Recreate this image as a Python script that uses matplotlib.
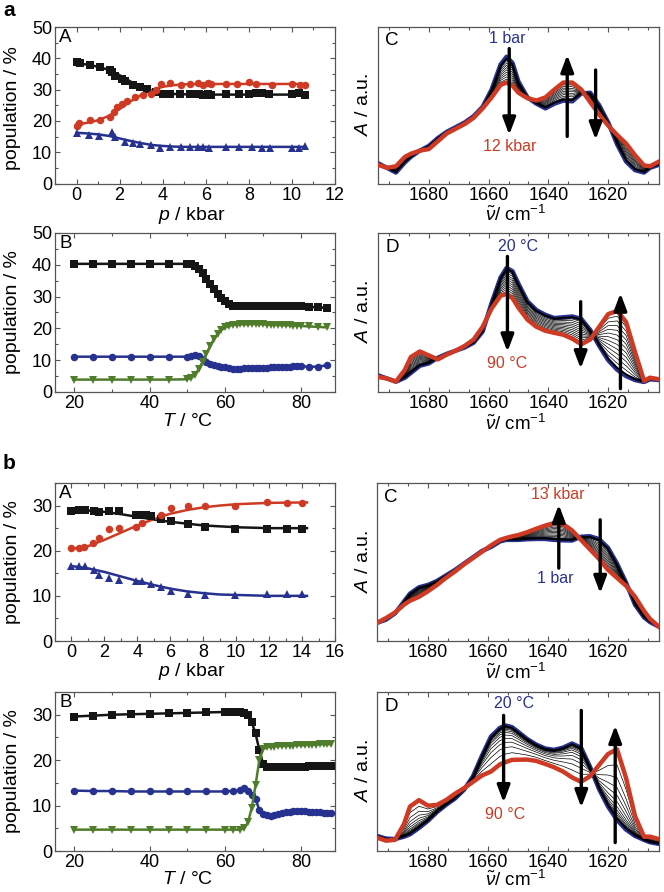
import matplotlib
matplotlib.use('Agg')
import matplotlib.pyplot as plt
from matplotlib.ticker import MultipleLocator
from matplotlib.patches import ArrowStyle
import numpy as np

plt.rcParams['font.family'] = ['Liberation Sans', 'DejaVu Sans']
plt.rcParams['mathtext.fontset'] = 'custom'
plt.rcParams['mathtext.rm'] = 'Liberation Sans'
plt.rcParams['mathtext.it'] = 'Liberation Sans:italic'
plt.rcParams['mathtext.bf'] = 'Liberation Sans:bold'

BLACK = '#151515'
RED = '#cf3a24'
BLUE = '#27318f'
GREEN = '#4f7d2c'
SPINE = '#555555'

# ---------------- panel a-A (pressure) ----------------
aA_p_black = [0, 0.15, 0.61, 1.10, 1.56, 1.64, 1.79, 2.10, 2.25, 2.64, 2.94, 3.25, 3.71, 4.02, 4.33, 4.79,
              5.25, 5.55, 5.70, 5.86, 6.09, 6.24, 6.93, 7.55, 8.01, 8.31, 8.62, 8.93, 10.0, 10.31, 10.61]
aA_black = [38.9, 38.4, 38.0, 37.1, 36.3, 35.5, 34.5, 33.3, 32.6, 31.4, 30.9, 30.3, 29.3, 28.7, 28.5, 28.5,
            28.5, 28.5, 28.5, 28.4, 28.5, 28.3, 28.5, 28.5, 28.7, 28.8, 29.0, 28.6, 28.7, 28.8, 28.4]
aA_p_red = [0, 0.11, 0.61, 1.10, 1.56, 1.72, 1.87, 2.10, 2.33, 2.71, 3.10, 3.48, 3.71, 3.94, 4.33, 4.86,
            5.25, 5.63, 5.86, 6.09, 6.24, 6.93, 7.47, 8.01, 8.31, 9.08, 10.0, 10.38, 10.61]
aA_red = [18.3, 19.4, 20.2, 20.4, 21.3, 23.0, 24.3, 25.3, 26.4, 27.7, 28.2, 28.7, 29.8, 31.9, 32.1, 31.4,
          31.7, 32.1, 31.4, 32.1, 31.9, 31.9, 31.9, 32.4, 31.9, 31.4, 31.7, 31.4, 31.4]
aA_p_blue = [0, 0.57, 1.03, 1.64, 1.79, 2.25, 2.64, 2.94, 3.48, 3.87, 4.33, 4.86, 5.25, 5.63, 5.86, 6.17,
             6.93, 7.55, 8.16, 8.62, 9.0, 10.0, 10.31, 10.61]
aA_blue = [16.0, 15.4, 15.1, 16.5, 14.9, 13.3, 12.8, 12.6, 12.4, 11.5, 11.7, 11.7, 11.7, 11.7, 11.7, 11.2,
           11.7, 11.7, 11.7, 11.5, 11.5, 11.5, 11.5, 11.9]
aA_pfit = [0, 0.5, 1.0, 1.5, 2.0, 2.5, 3.0, 3.5, 4.0, 4.5, 5.0, 6.0, 8.0, 10.6]
aA_black_fit = [38.4, 38.0, 37.3, 36.3, 34.6, 32.6, 30.8, 29.6, 28.9, 28.6, 28.5, 28.4, 28.4, 28.4]
aA_red_fit = [18.8, 19.4, 20.2, 21.6, 23.8, 26.2, 28.3, 29.9, 30.9, 31.4, 31.7, 31.8, 31.8, 31.8]
aA_blue_fit = [16.2, 16.0, 15.7, 15.2, 14.4, 13.6, 12.9, 12.3, 12.0, 11.8, 11.7, 11.7, 11.7, 11.7]

# ---------------- panel a-B (temperature) ----------------
aB_T = [20, 25, 30, 35, 40, 45, 50, 51, 52, 53, 54, 55, 56, 57, 58, 59, 60, 61, 62, 63, 64, 65, 66, 67, 68,
        69, 70, 71, 72, 73, 74, 75, 76, 77, 78, 79, 80, 82, 84.5, 87]
aB_black = [40.3, 40.3, 40.3, 40.3, 40.3, 40.3, 40.3, 40.1, 39.7, 38.7, 37.3, 35.6, 34.0, 32.3, 30.8, 29.5,
            28.5, 27.7, 27.2, 27.0, 26.9, 26.9, 26.9, 26.9, 26.9, 26.9, 26.9, 26.9, 26.9, 26.9, 26.9, 26.9,
            26.9, 26.9, 26.9, 26.9, 26.9, 26.8, 26.6, 26.5]
aB_blue = [11.1, 11.1, 11.1, 11.1, 11.1, 11.1, 11.1, 11.3, 11.5, 11.2, 10.4, 9.5, 8.8, 8.4, 8.2, 8.0, 7.9,
           7.5, 7.3, 7.2, 7.3, 7.4, 7.5, 7.5, 7.6, 7.6, 7.7, 7.7, 7.8, 7.8, 7.9, 7.9, 8.0, 8.0, 8.1, 8.1,
           8.2, 7.9, 8.0, 8.4]
aB_green = [3.9, 3.9, 3.9, 3.9, 3.9, 3.9, 4.0, 4.4, 5.5, 7.2, 9.5, 12.0, 14.5, 16.6, 18.3, 19.5, 20.3,
            20.8, 21.1, 21.2, 21.3, 21.3, 21.3, 21.4, 21.4, 21.3, 21.3, 21.2, 21.2, 21.1, 21.1, 21.0, 21.0,
            21.0, 20.9, 20.9, 20.8, 20.6, 20.5, 20.3]

# ---------------- panel b-A (pressure) ----------------
bA_p_black = [0, 0.45, 0.85, 1.35, 1.7, 2.3, 2.9, 3.9, 4.2, 4.5, 4.8, 5.45, 6.05, 7.05, 8.1, 9.9, 11.85, 13.1, 14.0]
bA_black = [28.9, 29.0, 29.1, 28.9, 28.5, 28.9, 28.7, 28.0, 28.0, 28.0, 27.6, 27.0, 26.5, 26.0, 25.3, 24.8,
            24.8, 24.7, 24.8]
bA_p_red = [0, 0.45, 0.75, 1.3, 1.7, 2.3, 2.9, 3.9, 4.3, 5.45, 6.05, 7.05, 8.1, 9.9, 11.85, 13.1, 14.0]
bA_red = [20.6, 20.6, 20.8, 21.7, 22.8, 24.8, 25.1, 25.3, 26.2, 28.0, 29.4, 30.0, 30.0, 29.8, 30.8, 30.5, 30.5]
bA_p_blue = [0, 0.45, 0.8, 1.35, 1.7, 2.3, 2.9, 3.9, 4.3, 4.8, 5.45, 6.05, 7.05, 8.1, 9.9, 11.85, 13.1, 14.0]
bA_blue = [16.7, 16.7, 16.7, 15.8, 14.7, 13.9, 13.6, 13.2, 13.2, 12.6, 11.9, 11.0, 10.4, 10.1, 10.2, 10.4,
           10.4, 10.4]
bA_pfit = [0, 1, 2, 3, 4, 5, 6, 7, 8, 9, 10, 12, 14.3]
bA_black_fit = [29.0, 28.9, 28.6, 28.1, 27.5, 26.9, 26.4, 26.0, 25.6, 25.4, 25.2, 25.0, 25.0]
bA_red_fit = [20.4, 21.0, 22.4, 24.0, 25.6, 27.0, 28.2, 29.0, 29.6, 30.0, 30.3, 30.6, 30.7]
bA_blue_fit = [16.6, 16.1, 15.3, 14.3, 13.3, 12.4, 11.6, 11.0, 10.6, 10.3, 10.2, 10.0, 10.0]

# ---------------- panel b-B (temperature) ----------------
bB_T = [20, 25, 30, 35, 40, 45, 50, 55, 60, 62, 64, 65, 66, 67, 68, 69, 70, 71, 72, 73, 74, 75, 76, 77, 78,
        79, 80, 81, 82, 83, 84, 85, 86, 87, 88]
bB_black = [29.6, 29.8, 30.0, 30.1, 30.2, 30.3, 30.4, 30.5, 30.6, 30.6, 30.5, 30.3, 30.0, 28.3, 25.9, 22.2,
            19.2, 18.6, 18.4, 18.5, 18.5, 18.5, 18.5, 18.6, 18.6, 18.6, 18.6, 18.6, 18.7, 18.7, 18.7, 18.7,
            18.7, 18.7, 18.7]
bB_blue = [13.3, 13.2, 13.2, 13.1, 13.1, 13.1, 13.1, 13.1, 13.1, 13.2, 13.4, 13.8, 13.2, 12.3, 11.5, 9.0,
           8.2, 8.0, 7.6, 7.9, 8.2, 8.4, 8.5, 8.6, 8.7, 8.7, 8.7, 8.8, 8.6, 8.6, 8.5, 8.5, 8.4, 8.4, 8.4]
bB_green = [4.7, 4.7, 4.7, 4.7, 4.7, 4.7, 4.7, 4.7, 4.7, 4.7, 4.7, 5.0, 6.3, 9.5, 14.5, 20.0, 22.5, 22.8,
            23.0, 23.0, 23.1, 23.1, 23.2, 23.2, 23.2, 23.3, 23.3, 23.3, 23.4, 23.4, 23.4, 23.5, 23.5, 23.5, 23.5]

# ---------------- spectra (common wavenumber grid) ----------------
wn = [1697, 1694, 1691, 1688, 1686, 1683, 1680, 1677, 1674, 1671, 1668, 1665, 1662, 1659, 1656, 1654, 1652,
      1650, 1647, 1644, 1641, 1638, 1635, 1632, 1629, 1626, 1623, 1620, 1617, 1614, 1611, 1608, 1606, 1603]

aC_blue = [0.13, 0.10, 0.07, 0.135, 0.17, 0.21, 0.24, 0.29, 0.33, 0.36, 0.39, 0.43, 0.49, 0.60, 0.76, 0.81,
           0.77, 0.65, 0.55, 0.51, 0.48, 0.51, 0.53, 0.525, 0.575, 0.58, 0.50, 0.39, 0.25, 0.14, 0.085, 0.07,
           0.10, 0.12]
aC_red = [0.12, 0.10, 0.11, 0.17, 0.19, 0.21, 0.22, 0.27, 0.32, 0.35, 0.38, 0.42, 0.48, 0.55, 0.63, 0.645,
          0.625, 0.58, 0.545, 0.53, 0.55, 0.60, 0.645, 0.645, 0.60, 0.52, 0.44, 0.37, 0.31, 0.255, 0.18,
          0.115, 0.11, 0.14]
aD_blue = [0.105, 0.085, 0.065, 0.09, 0.12, 0.165, 0.18, 0.215, 0.24, 0.26, 0.28, 0.31, 0.38, 0.56, 0.72,
           0.78, 0.76, 0.68, 0.57, 0.515, 0.485, 0.465, 0.47, 0.475, 0.46, 0.39, 0.29, 0.20, 0.14, 0.10,
           0.075, 0.063, 0.08, 0.075]
aD_red = [0.095, 0.085, 0.065, 0.14, 0.22, 0.255, 0.23, 0.205, 0.235, 0.26, 0.29, 0.33, 0.41, 0.525, 0.605,
          0.617, 0.59, 0.53, 0.455, 0.41, 0.385, 0.372, 0.36, 0.335, 0.30, 0.33, 0.41, 0.49, 0.51, 0.44,
          0.25, 0.07, 0.09, 0.08]
bC_blue = [0.115, 0.135, 0.175, 0.25, 0.30, 0.34, 0.355, 0.38, 0.415, 0.45, 0.49, 0.53, 0.57, 0.595, 0.63,
           0.64, 0.64, 0.64, 0.644, 0.646, 0.646, 0.64, 0.637, 0.636, 0.66, 0.663, 0.645, 0.59, 0.49, 0.37,
           0.23, 0.15, 0.12, 0.09]
bC_red = [0.115, 0.145, 0.18, 0.23, 0.255, 0.28, 0.315, 0.355, 0.40, 0.44, 0.485, 0.525, 0.565, 0.605, 0.64,
          0.652, 0.662, 0.67, 0.688, 0.71, 0.73, 0.746, 0.74, 0.70, 0.64, 0.58, 0.52, 0.45, 0.40, 0.35,
          0.28, 0.19, 0.14, 0.09]
bD_blue = [0.095, 0.078, 0.075, 0.09, 0.105, 0.145, 0.19, 0.245, 0.29, 0.33, 0.385, 0.47, 0.60, 0.72, 0.775,
           0.789, 0.779, 0.75, 0.705, 0.67, 0.645, 0.636, 0.65, 0.676, 0.65, 0.53, 0.39, 0.28, 0.195, 0.135,
           0.095, 0.07, 0.055, 0.045]
bD_red = [0.084, 0.065, 0.07, 0.17, 0.28, 0.32, 0.285, 0.29, 0.32, 0.36, 0.395, 0.435, 0.475, 0.50, 0.545,
          0.56, 0.573, 0.574, 0.575, 0.567, 0.548, 0.527, 0.50, 0.463, 0.435, 0.47, 0.54, 0.61, 0.64, 0.46,
          0.22, 0.09, 0.09, 0.075]

# fractions of the way from first (blue) to last (red) spectrum for the intermediate traces
aC_steps = [0.06, 0.15, 0.24, 0.33, 0.42, 0.51, 0.60, 0.69, 0.78, 0.87, 0.94]
aD_steps = [0.03, 0.11, 0.19, 0.27, 0.35, 0.43, 0.51, 0.59, 0.67, 0.75, 0.83, 0.91]
bC_steps = [0.04, 0.12, 0.20, 0.28, 0.36, 0.44, 0.52, 0.60, 0.68, 0.76, 0.84, 0.92]
bD_steps = [0.02, 0.04, 0.07, 0.10, 0.14, 0.19, 0.26, 0.35, 0.46, 0.60, 0.78]

W, H = 664, 892
fig = plt.figure(figsize=(W / 100, H / 100), dpi=100)

TICK_FS = 13
LAB_FS = 14


def box(x0, y0, x1, y1):
    return [x0 / W, 1 - y1 / H, (x1 - x0) / W, (y1 - y0) / H]


def style(ax, spec=False):
    for s in ax.spines.values():
        s.set_color(SPINE)
        s.set_linewidth(0.9)
    ax.tick_params(which='both', direction='in', top=True, bottom=True,
                   left=not spec, right=not spec, color=SPINE, labelsize=TICK_FS,
                   labelleft=not spec)
    ax.tick_params(axis='y', pad=2)
    ax.tick_params(axis='x', pad=2.5)
    ax.tick_params(which='major', length=3.5, width=0.8)
    ax.tick_params(which='minor', length=2.2, width=0.8)


def pop_panel(rect, letter, xlim, xmaj, xmin, ylim):
    ax = fig.add_axes(box(*rect))
    style(ax)
    ax.set_xlim(*xlim)
    ax.set_ylim(*ylim)
    ax.xaxis.set_major_locator(MultipleLocator(xmaj))
    ax.xaxis.set_minor_locator(MultipleLocator(xmin))
    ax.yaxis.set_major_locator(MultipleLocator(10))
    ax.yaxis.set_minor_locator(MultipleLocator(5))
    ax.text(0.015, 0.985, letter, transform=ax.transAxes, ha='left', va='top', fontsize=13.5)
    return ax


def spec_panel(rect, letter):
    ax = fig.add_axes(box(*rect))
    style(ax, spec=True)
    ax.set_xlim(1697, 1603)
    ax.set_ylim(0, 1)
    ax.xaxis.set_major_locator(MultipleLocator(20))
    ax.xaxis.set_minor_locator(MultipleLocator(20 / 3))
    ax.set_yticks([])
    ax.text(0.025, 0.965, letter, transform=ax.transAxes, ha='left', va='top', fontsize=13.5)
    return ax


def family(ax, blue, red, steps):
    b = np.array(blue)
    r = np.array(red)
    ax.plot(wn, blue, color=BLUE, lw=3.2, zorder=2, solid_joinstyle='round')
    for i, f in enumerate(steps):
        ax.plot(wn, b + f * (r - b), color='k', lw=1.3 if i == 0 else 0.5, zorder=3)
    ax.plot(wn, red, color=RED, lw=3.2, zorder=4, solid_joinstyle='round')


def arrow(ax, x, y0, y1):
    ax.annotate('', xy=(x, y1), xytext=(x, y0), zorder=6,
                arrowprops=dict(arrowstyle=ArrowStyle('-|>', head_length=0.85, head_width=0.32),
                                lw=2.4, color='k', shrinkA=0, shrinkB=0, mutation_scale=12))


MS = dict(markersize=5.4, markeredgewidth=0)

# ---- a-A
ax = pop_panel((55, 27, 335, 183.5), 'A', (-1, 12), 2, 1, (0, 50))
ax.plot(aA_pfit, aA_black_fit, color=BLACK, lw=1.8, zorder=2)
ax.plot(aA_pfit, aA_red_fit, color=RED, lw=1.8, zorder=2)
ax.plot(aA_pfit, aA_blue_fit, color=BLUE, lw=1.8, zorder=2)
ax.plot(aA_p_black, aA_black, 's', color=BLACK, zorder=3, **MS)
ax.plot(aA_p_red, aA_red, 'o', color=RED, zorder=3, **MS)
ax.plot(aA_p_blue, aA_blue, '^', color=BLUE, zorder=3, **MS)

# ---- a-B
ax = pop_panel((55, 233, 335, 392), 'B', (15, 89), 20, 10, (0, 50))
ax.plot(aB_T, aB_black, 's-', color=BLACK, lw=1.8, zorder=3, **MS)
ax.plot(aB_T, aB_blue, 'o-', color=BLUE, lw=1.8, zorder=3, **MS)
ax.plot(aB_T, aB_green, 'v-', color=GREEN, lw=1.8, zorder=3, **MS)

# ---- b-A
ax = pop_panel((55, 483, 335, 641), 'A', (-1, 16), 2, 1, (0, 35))
ax.plot(bA_pfit, bA_black_fit, color=BLACK, lw=1.8, zorder=2)
ax.plot(bA_pfit, bA_red_fit, color=RED, lw=1.8, zorder=2)
ax.plot(bA_pfit, bA_blue_fit, color=BLUE, lw=1.8, zorder=2)
ax.plot(bA_p_black, bA_black, 's', color=BLACK, zorder=3, **MS)
ax.plot(bA_p_red, bA_red, 'o', color=RED, zorder=3, **MS)
ax.plot(bA_p_blue, bA_blue, '^', color=BLUE, zorder=3, **MS)

# ---- b-B
ax = pop_panel((55, 692, 335, 851), 'B', (15, 89), 20, 10, (0, 35))
ax.plot(bB_T, bB_black, 's-', color=BLACK, lw=1.8, zorder=3, **MS)
ax.plot(bB_T, bB_blue, 'o-', color=BLUE, lw=1.8, zorder=3, **MS)
ax.plot(bB_T, bB_green, 'v-', color=GREEN, lw=1.8, zorder=3, **MS)

# ---- a-C
ax = spec_panel((378, 27, 659, 183.5), 'C')
family(ax, aC_blue, aC_red, aC_steps)
arrow(ax, 1653.1, 0.862, 0.311)
arrow(ax, 1633.7, 0.301, 0.822)
arrow(ax, 1624.2, 0.725, 0.28)
ax.text(1653.7, 0.925, '1 bar', color=BLUE, ha='center', va='center', fontsize=11.5)
ax.text(1653.1, 0.237, '12 kbar', color=RED, ha='center', va='center', fontsize=11.5)

# ---- a-D
ax = spec_panel((378, 233, 659, 392), 'D')
family(ax, aD_blue, aD_red, aD_steps)
arrow(ax, 1653.7, 0.853, 0.253)
arrow(ax, 1629.2, 0.568, 0.147)
arrow(ax, 1615.9, 0.021, 0.621)
ax.text(1650.3, 0.916, '20 °C', color=BLUE, ha='center', va='center', fontsize=11.5)
ax.text(1653.7, 0.179, '90 °C', color=RED, ha='center', va='center', fontsize=11.5)

# ---- b-C
ax = spec_panel((377, 483, 659, 641), 'C')
family(ax, bC_blue, bC_red, bC_steps)
arrow(ax, 1636.4, 0.461, 0.863)
arrow(ax, 1622.6, 0.767, 0.302)
ax.text(1636.7, 0.926, '13 kbar', color=RED, ha='center', va='center', fontsize=11.5)
ax.text(1637.6, 0.397, '1 bar', color=BLUE, ha='center', va='center', fontsize=11.5)

# ---- b-D
ax = spec_panel((377, 692, 659, 851), 'D')
family(ax, bD_blue, bD_red, bD_steps)
arrow(ax, 1654.8, 0.853, 0.305)
arrow(ax, 1628.9, 0.884, 0.274)
arrow(ax, 1617.6, 0.053, 0.789)
ax.text(1651.4, 0.926, '20 °C', color=BLUE, ha='center', va='center', fontsize=11.5)
ax.text(1654.2, 0.232, '90 °C', color=RED, ha='center', va='center', fontsize=11.5)


# ---- axis labels (figure pixel positions)
def ftext(x, y, s, **kw):
    fig.text(x / W, 1 - y / H, s, ha='center', va='center', **kw)


for yc in (108, 312, 562, 771):
    ftext(13, yc, 'population / %', rotation=90, fontsize=LAB_FS)
for yc in (105, 312, 562, 771):
    ftext(363, yc, r'$A$ / a.u.', rotation=90, fontsize=LAB_FS)

ftext(192, 215, r'$p$ / kbar', fontsize=LAB_FS)
ftext(188, 422, r'$T$ / °C', fontsize=LAB_FS)
ftext(192, 672, r'$p$ / kbar', fontsize=LAB_FS)
ftext(188, 880, r'$T$ / °C', fontsize=LAB_FS)
for yb in (221, 430, 679, 886):
    fig.text(516 / W, 1 - yb / H, r'$\tilde{\nu}$/ cm$^{-1}$', ha='center', va='baseline',
             fontsize=13.5)

fig.text(3 / W, 1 - 10 / H, 'a', ha='left', va='center', fontsize=15, fontweight='bold')
fig.text(3 / W, 1 - 464 / H, 'b', ha='left', va='center', fontsize=15, fontweight='bold')

fig.savefig('out.png', dpi=100)
